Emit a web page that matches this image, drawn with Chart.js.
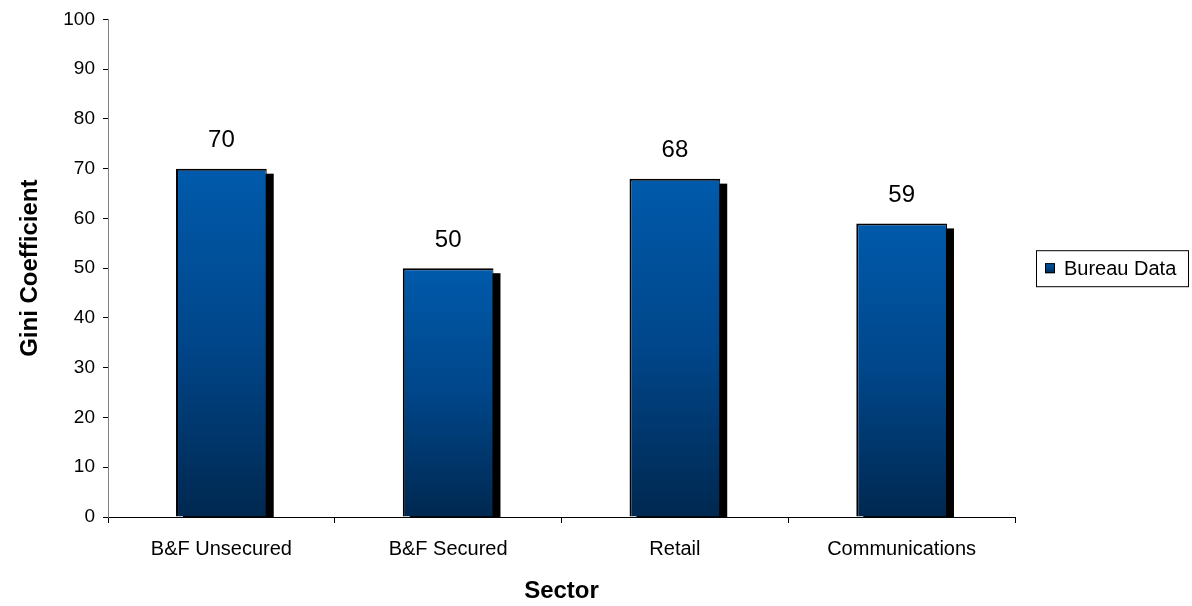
<!DOCTYPE html>
<html>
<head>
<meta charset="utf-8">
<script src="https://cdn.jsdelivr.net/npm/chart.js@4"></script>
<style>
  html, body { margin: 0; padding: 0; background: #fff; }
</style>
</head>
<body>
<canvas id="giniChart" width="1192" height="606"></canvas>
<script>
const sectors = ['B&F Unsecured', 'B&F Secured', 'Retail', 'Communications'];
const bureauData = [70, 50, 68, 59];
const yTicks = [0, 10, 20, 30, 40, 50, 60, 70, 80, 90, 100];

const FONT = 'Arial, "Liberation Sans", sans-serif';

// black drop shadow behind each bar
const shadowPlugin = {
    id: 'barShadow',
    beforeDatasetsDraw(chart) {
        const ctx = chart.ctx;
        const yScale = chart.scales.y;
        const base = yScale.getPixelForValue(0);
        ctx.save();
        ctx.fillStyle = '#000000';
        chart.getDatasetMeta(0).data.forEach(bar => {
            const w = bar.width;
            ctx.fillRect(bar.x - w / 2 + 7, bar.y + 5, w, base - bar.y - 5);
        });
        ctx.restore();
    }
};

// value labels above bars + legend box on the right
const labelPlugin = {
    id: 'valueLabels',
    afterDatasetsDraw(chart) {
        const ctx = chart.ctx;
        ctx.save();
        ctx.fillStyle = '#000';
        ctx.font = '24px ' + FONT;
        ctx.textAlign = 'center';
        ctx.textBaseline = 'middle';
        chart.getDatasetMeta(0).data.forEach((bar, i) => {
            ctx.fillText(String(bureauData[i]), bar.x, bar.y - 28);
        });

        // legend
        const area = chart.chartArea;
        const midY = (area.top + area.bottom) / 2;
        const lx = 1036, lw = 152, lh = 36;
        const ly = midY - lh / 2;
        ctx.strokeStyle = '#000';
        ctx.lineWidth = 1;
        ctx.strokeRect(lx + 0.5, ly + 0.5, lw, lh);
        const g = ctx.createLinearGradient(0, midY - 5, 0, midY + 5);
        g.addColorStop(0, '#005aab');
        g.addColorStop(1, '#002b57');
        ctx.fillStyle = g;
        ctx.fillRect(lx + 9, midY - 5, 10, 10);
        ctx.strokeRect(lx + 9.5, midY - 4.5, 9, 9);
        ctx.fillStyle = '#000';
        ctx.font = '20px ' + FONT;
        ctx.textAlign = 'left';
        ctx.fillText('Bureau Data', lx + 28, midY + 1);
        ctx.restore();
    }
};

const ctx = document.getElementById('giniChart').getContext('2d');
const giniChart = new Chart(ctx, {
    type: 'bar',
    data: {
        labels: sectors,
        datasets: [{
            label: 'Bureau Data',
            data: bureauData,
            backgroundColor: function (context) {
                const chart = context.chart;
                if (!chart.chartArea || context.parsed === undefined) return '#004a90';
                const y = chart.scales.y;
                const top = y.getPixelForValue(context.parsed.y);
                const bottom = y.getPixelForValue(0);
                const g = chart.ctx.createLinearGradient(0, top, 0, bottom);
                g.addColorStop(0, '#005aab');
                g.addColorStop(0.5, '#00468a');
                g.addColorStop(1, '#002850');
                return g;
            },
            borderColor: '#000000',
            borderWidth: { top: 2, left: 2, right: 1, bottom: 0 },
            borderSkipped: 'bottom',
            barPercentage: 0.4,
            categoryPercentage: 1.0
        }]
    },
    options: {
        responsive: false,
        animation: false,
        layout: {
            padding: { left: 10, right: 177, top: 19, bottom: 0 }
        },
        plugins: {
            legend: { display: false },
            tooltip: { enabled: false }
        },
        scales: {
            x: {
                offset: true,
                afterFit(scale) {
                    scale.height = 89;
                },
                grid: {
                    offset: true,
                    drawOnChartArea: false,
                    tickLength: 6,
                    color: '#000'
                },
                border: { color: '#000', width: 1 },
                ticks: {
                    color: '#000',
                    font: { family: FONT, size: 20 },
                    padding: 14,
                    maxRotation: 0
                },
                title: {
                    display: true,
                    text: 'Sector',
                    color: '#000',
                    font: { family: FONT, size: 24, weight: 'bold' },
                    padding: { top: 10, bottom: 0 }
                }
            },
            y: {
                min: 0,
                max: 100,
                afterBuildTicks(scale) {
                    scale.ticks = yTicks.map(v => ({ value: v }));
                },
                afterFit(scale) {
                    scale.width = 98;
                },
                grid: {
                    drawOnChartArea: false,
                    tickLength: 5,
                    color: '#000'
                },
                border: { color: '#808080', width: 1 },
                ticks: {
                    color: '#000',
                    font: { family: FONT, size: 19 },
                    padding: 8
                },
                title: {
                    display: true,
                    text: 'Gini Coefficient',
                    color: '#000',
                    font: { family: FONT, size: 24, weight: 'bold' },
                    padding: { top: 6, bottom: 10 }
                }
            }
        }
    },
    plugins: [shadowPlugin, labelPlugin]
});
</script>
</body>
</html>
